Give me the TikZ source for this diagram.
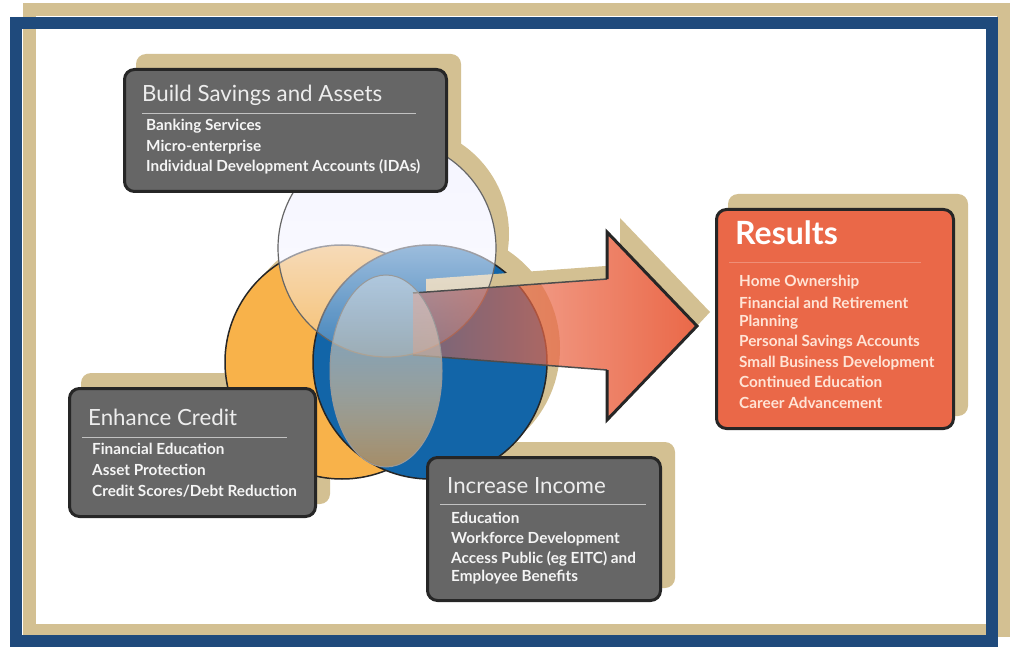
\documentclass[tikz,border=0pt]{standalone}
\usepackage{fontspec}
\setmainfont{Lato}
\usepackage{tikz}
\usetikzlibrary{fadings}
\usetikzlibrary{backgrounds}
\usepackage{xcolor}
\definecolor{ColTan}{RGB}{211,192,146}
\definecolor{ColFrame}{RGB}{31,74,124}
\definecolor{ColBox}{RGB}{102,102,102}
\definecolor{ColRes}{RGB}{234,104,72}
\definecolor{ColOrange}{RGB}{248,178,74}
\definecolor{ColBlue}{RGB}{18,101,168}
\definecolor{ColLensTop}{RGB}{242,240,238}
\definecolor{ColLensBot}{RGB}{182,146,96}
\definecolor{ColResText}{RGB}{255,228,214}
\tikzfading[name=FadeDown,top color=transparent!0,middle color=transparent!12,bottom color=transparent!80]
\tikzfading[name=FadeRight,left color=transparent!55,right color=transparent!0]
\tikzfading[name=FadeLens,top color=transparent!60,bottom color=transparent!10]
\tikzstyle{Shadow}=[fill=ColTan,draw=none]
\tikzstyle{Lift}=[xshift=13,yshift=14]
\tikzstyle{Ring}=[draw=black!85,line width=1.5]
\tikzstyle{Box}=[draw=black!85,fill=ColBox,line width=3,rounded corners=10,inner sep=0]
\tikzstyle{ResBox}=[Box,fill=ColRes]
\tikzstyle{Title}=[anchor=base west,inner sep=0,text=white!93!black,
font=\fontsize{22.3}{25}\selectfont]
\tikzstyle{Item}=[anchor=base west,inner sep=0,text=white!96!black,
font=\fontsize{15.3}{17}\selectfont\bfseries]
\tikzstyle{ResItem}=[Item,text=ColResText]
\tikzstyle{Rule}=[draw=white!60!ColBox,line width=0.8]

\begin{document}
\begin{tikzpicture}[x=1pt,y=-1pt]
        \useasboundingbox (0,0) rectangle (1015,647);
        % boxes
        \node[Box,minimum width=322,minimum height=122](save)at(285.5,130.5){};
        \node[Box,minimum width=246,minimum height=128](credit)at(192.5,452.5){};
        \node[Box,minimum width=233,minimum height=143](income)at(544,529){};
        \node[ResBox,minimum width=237,minimum height=219](results)at(835,319){};
        \begin{pgfonlayer}{background}
        \draw[ColTan,line width=13](29.5,9.5)rectangle(1003.5,630.5);
        \draw[ColFrame,line width=12](16,23)rectangle(992,641);
        \fill[Shadow,rounded corners=10]([Lift]save.north west)rectangle([Lift]save.south east);
        \fill[Shadow,rounded corners=10]([Lift]credit.north west)rectangle([Lift]credit.south east);
        \fill[Shadow,rounded corners=10]([Lift]income.north west)rectangle([Lift]income.south east);
        \fill[Shadow,rounded corners=10]([Lift]results.north west)rectangle([Lift]results.south east);
        \fill[Shadow,Lift](387,248)circle[radius=109pt];
        \fill[Shadow,Lift](342,362)circle[radius=117pt];
        \fill[Shadow,Lift](430,362)circle[radius=117pt];
        \fill[Shadow](620,218)--(710,312)--(697,326)--(620,245.6)--cycle;
        % circles
        \fill[white](387,248)circle[radius=109pt];
        \draw[Ring,fill=ColOrange](342,362)circle[radius=117pt];
        \draw[Ring,fill=ColBlue](430,362)circle[radius=117pt];
        \fill[Shadow](426,279)--(607,265.9)--(607,279)--(426,292.1)--cycle;
        \fill[white!96!blue,path fading=FadeDown](387,248)circle[radius=109pt];
        \draw[black!60,line width=1.2](387,248)circle[radius=109pt];
        % arrow
        \fill[ColRes,path fading=FadeRight](413,293)--(607,279)--(607,232)--(697,326)
            --(607,420)--(607,370)--(413,355)--cycle;
        \draw[black!70,line width=1.5](413,293)--(607,279);
        \draw[black!70,line width=1.5](413,355)--(607,370);
        \draw[black!85,line width=3,line join=miter](607,279)--(607,232)--(697,326)
            --(607,420)--(607,370);
        \shade[top color=ColLensTop,bottom color=ColLensBot,path fading=FadeLens]
            (386,371)ellipse[x radius=56pt,y radius=96pt];
        \draw[black!40,line width=1](386,371)ellipse[x radius=56pt,y radius=96pt];
        \end{pgfonlayer}
        % texts
        \node[Title](saveT)at(142,102){Build Savings and Assets};
        \draw[Rule](142,113)--(416,113);
        \node[Item](save1)at(146,131){Banking Services};
        \node[Item](save2)at(146,152){Micro-enterprise};
        \node[Item](save3)at(146,172){Individual Development Accounts (IDAs)};
        \node[Title](creditT)at(88,425){Enhance Credit};
        \draw[Rule](82,437)--(287,437);
        \node[Item](credit1)at(92,454){Financial Education};
        \node[Item](credit2)at(92,475){Asset Protection};
        \node[Item](credit3)at(92,496){Credit Scores/Debt Reduction};
        \node[Title](incomeT)at(447,493){Increase Income};
        \draw[Rule](440,504)--(646,504);
        \node[Item](income1)at(451,523){Education};
        \node[Item](income2)at(451,543){Workforce Development};
        \node[Item](income3)at(451,563){Access Public (eg EITC) and};
        \node[Item](income4)at(451,581){Employee Benefits};
        \node[Title,text=white,font=\fontsize{32}{35}\selectfont\bfseries](resultsT)at(735,245){Results};
        \draw[draw=white!25!ColRes,line width=0.8](729,262)--(921,262);
        \node[ResItem](results1)at(739,287){Home Ownership};
        \node[ResItem](results2)at(739,308){Financial and Retirement};
        \node[ResItem](results3)at(739,326){Planning};
        \node[ResItem](results4)at(739,346){Personal Savings Accounts};
        \node[ResItem](results5)at(739,367){Small Business Development};
        \node[ResItem](results6)at(739,387){Continued Education};
        \node[ResItem](results7)at(739,408){Career Advancement};
    \end{tikzpicture}
\end{document}
